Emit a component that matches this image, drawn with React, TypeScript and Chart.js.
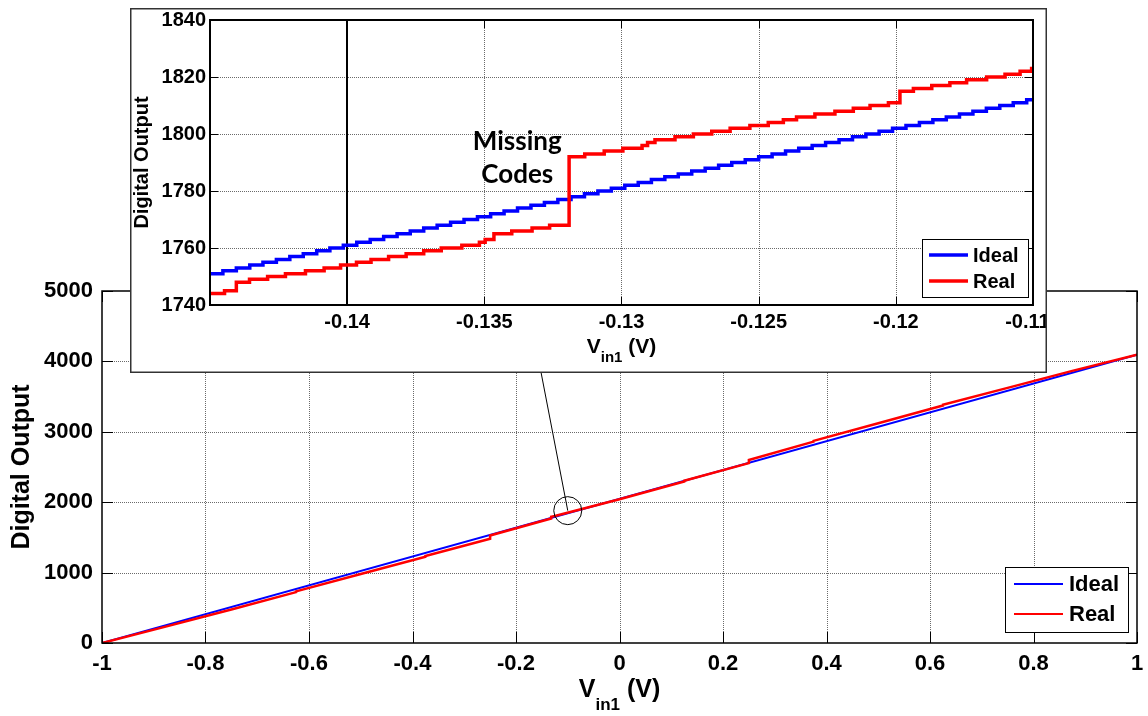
import React, { useEffect, useRef } from 'react';
import { Chart, registerables } from 'chart.js';

Chart.register(...registerables);

const FONT = '"Liberation Sans", Arial, Helvetica, sans-serif';
const NOTE_FONT = 'Lato, "Open Sans", sans-serif';

// ---------- main chart data ----------
const mainXTicks = [-1, -0.8, -0.6, -0.4, -0.2, 0, 0.2, 0.4, 0.6, 0.8, 1];
const mainXLabels = ['-1', '-0.8', '-0.6', '-0.4', '-0.2', '0', '0.2', '0.4', '0.6', '0.8', '1'];
const mainYTicks = [0, 1000, 2000, 3000, 4000, 5000];
const mainYLabels = ['0', '1000', '2000', '3000', '4000', '5000'];

const idealMainX = [-1, 1];
const idealMainY = [0, 4095];

const realMainX = [-1, -0.875, -0.75, -0.625, -0.625, -0.5, -0.375, -0.375, -0.25, -0.25, -0.132, -0.132, -0.125, 0, 0.125, 0.125, 0.25, 0.25, 0.375, 0.375, 0.5, 0.625, 0.625, 0.75, 0.875, 1];
const realMainY = [0, 236, 477, 723, 733, 979, 1225, 1235, 1481, 1526, 1768, 1792, 1804, 2043, 2294, 2304, 2555, 2600, 2861, 2871, 3122, 3373, 3383, 3624, 3865, 4095];

// zoom marker (circle) and its pointer toward the inset
const calloutCenter = { x: -0.1, y: 1880 };
const calloutTarget = { x: -0.182, y: 5000 };

// ---------- inset data ----------
const insetXTicks = [-0.145, -0.14, -0.135, -0.13, -0.125, -0.12, -0.115];
const insetXLabels = ['', '-0.14', '-0.135', '-0.13', '-0.125', '-0.12', '-0.115'];
const insetYTicks = [1740, 1760, 1780, 1800, 1820, 1840];
const insetYLabels = ['1740', '1760', '1780', '1800', '1820', '1840'];
const insetSolidX = -0.14;

const insetIdealX = [-0.145, -0.14453, -0.14404, -0.14355, -0.14307, -0.14258, -0.14209, -0.1416, -0.14111, -0.14063, -0.14014, -0.13965, -0.13916, -0.13867, -0.13818, -0.1377, -0.13721, -0.13672, -0.13623, -0.13574, -0.13525, -0.13477, -0.13428, -0.13379, -0.1333, -0.13281, -0.13232, -0.13184, -0.13135, -0.13086, -0.13037, -0.12988, -0.12939, -0.12891, -0.12842, -0.12793, -0.12744, -0.12695, -0.12646, -0.12598, -0.12549, -0.125, -0.12451, -0.12402, -0.12354, -0.12305, -0.12256, -0.12207, -0.12158, -0.12109, -0.12061, -0.12012, -0.11963, -0.11914, -0.11865, -0.11816, -0.11768, -0.11719, -0.1167, -0.11621, -0.11572, -0.11523, -0.115];
const insetIdealY = [1751, 1752, 1753, 1754, 1755, 1756, 1757, 1758, 1759, 1760, 1761, 1762, 1763, 1764, 1765, 1766, 1767, 1768, 1769, 1770, 1771, 1772, 1773, 1774, 1775, 1776, 1777, 1778, 1779, 1780, 1781, 1782, 1783, 1784, 1785, 1786, 1787, 1788, 1789, 1790, 1791, 1792, 1793, 1794, 1795, 1796, 1797, 1798, 1799, 1800, 1801, 1802, 1803, 1804, 1805, 1806, 1807, 1808, 1809, 1810, 1811, 1812, 1812];

const insetRealX = [-0.145, -0.14447, -0.14404, -0.14356, -0.1429, -0.14225, -0.14152, -0.14084, -0.14024, -0.13966, -0.13913, -0.13849, -0.13785, -0.13721, -0.13657, -0.13582, -0.13518, -0.13497, -0.13465, -0.134, -0.13326, -0.13262, -0.13191, -0.13134, -0.13063, -0.12995, -0.12925, -0.12905, -0.12878, -0.12805, -0.12738, -0.12671, -0.12604, -0.12532, -0.12465, -0.1241, -0.12362, -0.12295, -0.12222, -0.12155, -0.12094, -0.12027, -0.11985, -0.11936, -0.11869, -0.11803, -0.11742, -0.11669, -0.11602, -0.11547, -0.11505, -0.115];
const insetRealY = [1744, 1745, 1748, 1749, 1750, 1751, 1752, 1753, 1754, 1755, 1756, 1757, 1758, 1759, 1760, 1761, 1762, 1763, 1765, 1766, 1767, 1768, 1792, 1793, 1794, 1795, 1796, 1797, 1798, 1799, 1800, 1801, 1802, 1803, 1804, 1805, 1806, 1807, 1808, 1809, 1810, 1811, 1815, 1816, 1817, 1818, 1819, 1820, 1821, 1822, 1823, 1823];

const seriesNames = ['Ideal', 'Real'];
const seriesColors = ['#0000ff', '#ff0000'];

const toPoints = (xs: number[], ys: number[]) => xs.map((x, i) => ({ x, y: ys[i] }));

type DecorOpts = {
  xTicks: number[];
  yTicks: number[];
  tickLen: number;
  frameWidth: number;
  solidX?: number;
  legend: { dx: number; dy: number; w: number; h: number; lineFrom: number; lineLen: number; textGap: number; rows: number[]; size: number; lineWidth: number };
  yTitle: { x: number; size: number };
  xTitle: { baseline: number; size: number; subSize: number; subDrop: number };
  boxBorder?: boolean;
  extra?: (chart: any) => void;
};

function drawVin(ctx: CanvasRenderingContext2D, cx: number, baseline: number, size: number, subSize: number, subDrop: number) {
  const big = `bold ${size}px ${FONT}`;
  const small = `bold ${subSize}px ${FONT}`;
  ctx.font = big;
  const w1 = ctx.measureText('V').width;
  const w3 = ctx.measureText(' (V)').width;
  ctx.font = small;
  const w2 = ctx.measureText('in1').width;
  let x = cx - (w1 + w2 + w3) / 2;
  ctx.textAlign = 'left';
  ctx.textBaseline = 'alphabetic';
  ctx.fillStyle = '#000';
  ctx.font = big;
  ctx.fillText('V', x, baseline);
  x += w1;
  ctx.font = small;
  ctx.fillText('in1', x, baseline + subDrop);
  x += w2;
  ctx.font = big;
  ctx.fillText(' (V)', x, baseline);
}

function makeDecor(id: string, o: DecorOpts) {
  return {
    id,
    beforeDraw(chart: any) {
      const ctx = chart.ctx;
      ctx.save();
      ctx.fillStyle = '#ffffff';
      ctx.fillRect(0, 0, chart.width, chart.height);
      ctx.restore();
    },
    beforeDatasetsDraw(chart: any) {
      const ctx: CanvasRenderingContext2D = chart.ctx;
      const { left, right, top, bottom } = chart.chartArea;
      const xs = chart.scales.x;
      const ys = chart.scales.y;
      ctx.save();
      ctx.lineWidth = 1;
      ctx.strokeStyle = '#6a6a6a';
      ctx.setLineDash([1, 1]);
      for (const v of o.xTicks) {
        const px = Math.round(xs.getPixelForValue(v)) + 0.5;
        if (px <= left + 2 || px >= right - 2) continue;
        if (o.solidX !== undefined && Math.abs(v - o.solidX) < 1e-9) continue;
        ctx.beginPath();
        ctx.moveTo(px, top);
        ctx.lineTo(px, bottom);
        ctx.stroke();
      }
      for (const v of o.yTicks) {
        const py = Math.round(ys.getPixelForValue(v)) + 0.5;
        if (py <= top + 2 || py >= bottom - 2) continue;
        ctx.beginPath();
        ctx.moveTo(left, py);
        ctx.lineTo(right, py);
        ctx.stroke();
      }
      ctx.setLineDash([]);
      if (o.solidX !== undefined) {
        const px = Math.round(xs.getPixelForValue(o.solidX));
        ctx.strokeStyle = '#000';
        ctx.lineWidth = 2;
        ctx.beginPath();
        ctx.moveTo(px, top);
        ctx.lineTo(px, bottom);
        ctx.stroke();
      }
      ctx.restore();
    },
    afterDatasetsDraw(chart: any) {
      const ctx: CanvasRenderingContext2D = chart.ctx;
      const { left, right, top, bottom } = chart.chartArea;
      const xs = chart.scales.x;
      const ys = chart.scales.y;
      ctx.save();
      ctx.strokeStyle = '#000';
      ctx.lineWidth = 1;
      ctx.beginPath();
      for (const v of o.xTicks) {
        const px = Math.round(xs.getPixelForValue(v)) + 0.5;
        ctx.moveTo(px, bottom);
        ctx.lineTo(px, bottom - o.tickLen);
        ctx.moveTo(px, top);
        ctx.lineTo(px, top + o.tickLen);
      }
      for (const v of o.yTicks) {
        const py = Math.round(ys.getPixelForValue(v)) + 0.5;
        ctx.moveTo(left, py);
        ctx.lineTo(left + o.tickLen, py);
        ctx.moveTo(right, py);
        ctx.lineTo(right - o.tickLen, py);
      }
      ctx.stroke();
      ctx.lineWidth = o.frameWidth;
      ctx.strokeRect(left, top, right - left, bottom - top);
      ctx.restore();
      if (o.extra) o.extra(chart);
    },
    afterDraw(chart: any) {
      const ctx: CanvasRenderingContext2D = chart.ctx;
      const { left, right, top, bottom } = chart.chartArea;
      ctx.save();
      // legend
      const L = o.legend;
      const bx = right - L.dx - L.w;
      const by = bottom - L.dy - L.h;
      ctx.fillStyle = '#fff';
      ctx.fillRect(bx, by, L.w, L.h);
      ctx.strokeStyle = '#000';
      ctx.lineWidth = 1;
      ctx.strokeRect(Math.round(bx) + 0.5, Math.round(by) + 0.5, L.w, L.h);
      chart.data.datasets.forEach((ds: any) => {
        const row = L.rows[seriesNames.indexOf(ds.label)];
        const ly = by + row;
        ctx.strokeStyle = ds.borderColor;
        ctx.lineWidth = L.lineWidth;
        ctx.beginPath();
        ctx.moveTo(bx + L.lineFrom, ly);
        ctx.lineTo(bx + L.lineFrom + L.lineLen, ly);
        ctx.stroke();
        ctx.fillStyle = '#000';
        ctx.font = `bold ${L.size}px ${FONT}`;
        ctx.textAlign = 'left';
        ctx.textBaseline = 'middle';
        ctx.fillText(ds.label, bx + L.lineFrom + L.lineLen + L.textGap, ly + 1);
      });
      // y title
      ctx.fillStyle = '#000';
      ctx.font = `bold ${o.yTitle.size}px ${FONT}`;
      ctx.textAlign = 'center';
      ctx.textBaseline = 'middle';
      ctx.translate(o.yTitle.x, (top + bottom) / 2);
      ctx.rotate(-Math.PI / 2);
      ctx.fillText('Digital Output', 0, 0);
      ctx.setTransform(1, 0, 0, 1, 0, 0);
      // x title
      drawVin(ctx, (left + right) / 2, o.xTitle.baseline, o.xTitle.size, o.xTitle.subSize, o.xTitle.subDrop);
      if (o.boxBorder) {
        ctx.strokeStyle = '#333';
        ctx.lineWidth = 1.5;
        ctx.strokeRect(0.75, 0.75, chart.width - 1.5, chart.height - 1.5);
      }
      ctx.restore();
    },
  };
}

function scaleCfg(min: number, max: number, ticks: number[], labels: string[], size: number, pad: number, fit: (s: any) => void) {
  return {
    type: 'linear' as const,
    min,
    max,
    afterBuildTicks: (s: any) => {
      s.ticks = ticks.map((value) => ({ value }));
    },
    afterFit: fit,
    grid: { display: false, drawTicks: false },
    border: { display: false },
    ticks: {
      autoSkip: false,
      maxRotation: 0,
      minRotation: 0,
      padding: pad,
      color: '#000',
      font: { family: FONT, size, weight: 'bold' as const },
      callback: (_v: any, i: number) => labels[i],
    },
  };
}

export default function App() {
  const mainRef = useRef<HTMLCanvasElement>(null);
  const insetRef = useRef<HTMLCanvasElement>(null);

  useEffect(() => {
    const mainDecor = makeDecor('mainDecor', {
      xTicks: mainXTicks,
      yTicks: mainYTicks,
      tickLen: 11,
      frameWidth: 1.5,
      legend: { dx: 9, dy: 11, w: 123, h: 65, lineFrom: 9, lineLen: 49, textGap: 6, rows: [17, 47], size: 22, lineWidth: 2 },
      yTitle: { x: 22, size: 25 },
      xTitle: { baseline: 697, size: 25, subSize: 17, subDrop: 13 },
      extra: (chart: any) => {
        const ctx: CanvasRenderingContext2D = chart.ctx;
        const xs = chart.scales.x;
        const ys = chart.scales.y;
        const cx = xs.getPixelForValue(calloutCenter.x);
        const cy = ys.getPixelForValue(calloutCenter.y);
        const tx = xs.getPixelForValue(calloutTarget.x);
        const ty = ys.getPixelForValue(calloutTarget.y);
        ctx.save();
        ctx.strokeStyle = '#000';
        ctx.lineWidth = 1;
        ctx.beginPath();
        ctx.moveTo(cx, cy);
        ctx.lineTo(tx, ty);
        ctx.stroke();
        ctx.beginPath();
        ctx.arc(cx, cy, 14, 0, Math.PI * 2);
        ctx.stroke();
        ctx.restore();
      },
    });

    const insetDecor = makeDecor('insetDecor', {
      xTicks: insetXTicks,
      yTicks: insetYTicks,
      tickLen: 8,
      frameWidth: 2,
      solidX: insetSolidX,
      legend: { dx: 5, dy: 8, w: 106, h: 58, lineFrom: 7, lineLen: 39, textGap: 5, rows: [16, 42], size: 20, lineWidth: 3.5 },
      yTitle: { x: 12, size: 20 },
      xTitle: { baseline: 345, size: 21, subSize: 15, subDrop: 9 },
      boxBorder: true,
      extra: (chart: any) => {
        const ctx: CanvasRenderingContext2D = chart.ctx;
        const xs = chart.scales.x;
        const ys = chart.scales.y;
        // annotation anchored next to the jump in the Real series
        const ax = xs.getPixelForValue(-0.1338);
        const ay = ys.getPixelForValue(1793);
        ctx.save();
        ctx.fillStyle = '#000';
        ctx.font = `bold 26px ${NOTE_FONT}`;
        ctx.textAlign = 'center';
        ctx.textBaseline = 'middle';
        ctx.fillText('Missing', ax, ay - 12);
        ctx.fillText('Codes', ax, ay + 21);
        ctx.restore();
      },
    });

    const common = {
      animation: false as const,
      responsive: false,
      devicePixelRatio: 1,
      events: [] as any[],
      plugins: { legend: { display: false }, tooltip: { enabled: false } },
    };

    const mainChart = new Chart(mainRef.current!, {
      type: 'line',
      data: {
        datasets: [
          { label: 'Real', data: toPoints(realMainX, realMainY), borderColor: seriesColors[1], borderWidth: 2.5, pointRadius: 0, order: 0 },
          { label: 'Ideal', data: toPoints(idealMainX, idealMainY), borderColor: seriesColors[0], borderWidth: 2, pointRadius: 0, order: 1 },
        ],
      },
      options: {
        ...common,
        layout: { padding: { top: 291, right: 11, left: 0, bottom: 0 } },
        scales: {
          x: scaleCfg(-1, 1, mainXTicks, mainXLabels, 22, 8, (s: any) => {
            s.height = 73;
            s.paddingLeft = 0;
            s.paddingRight = 0;
          }),
          y: scaleCfg(0, 5000, mainYTicks, mainYLabels, 22, 9, (s: any) => {
            s.width = 102;
            s.paddingTop = 0;
            s.paddingBottom = 0;
          }),
        },
      },
      plugins: [mainDecor],
    } as any);

    const insetChart = new Chart(insetRef.current!, {
      type: 'line',
      data: {
        datasets: [
          { label: 'Real', data: toPoints(insetRealX, insetRealY), borderColor: seriesColors[1], borderWidth: 3.5, pointRadius: 0, stepped: true, order: 0 },
          { label: 'Ideal', data: toPoints(insetIdealX, insetIdealY), borderColor: seriesColors[0], borderWidth: 3.5, pointRadius: 0, stepped: true, order: 1 },
        ],
      },
      options: {
        ...common,
        layout: { padding: { top: 12, right: 14, left: 0, bottom: 0 } },
        scales: {
          x: scaleCfg(-0.145, -0.115, insetXTicks, insetXLabels, 20, 5, (s: any) => {
            s.height = 68;
            s.paddingLeft = 0;
            s.paddingRight = 0;
          }),
          y: scaleCfg(1740, 1840, insetYTicks, insetYLabels, 20, 4, (s: any) => {
            s.width = 80;
            s.paddingTop = 0;
            s.paddingBottom = 0;
          }),
        },
      },
      plugins: [insetDecor],
    } as any);

    return () => {
      mainChart.destroy();
      insetChart.destroy();
    };
  }, []);

  return (
    <div style={{ position: 'fixed', left: 0, top: 0, width: 1148, height: 716, background: '#fff', overflow: 'hidden' }}>
      <canvas ref={mainRef} width={1148} height={716} style={{ position: 'absolute', left: 0, top: 0, width: 1148, height: 716 }} />
      <canvas ref={insetRef} width={917} height={365} style={{ position: 'absolute', left: 130, top: 8, width: 917, height: 365 }} />
    </div>
  );
}
